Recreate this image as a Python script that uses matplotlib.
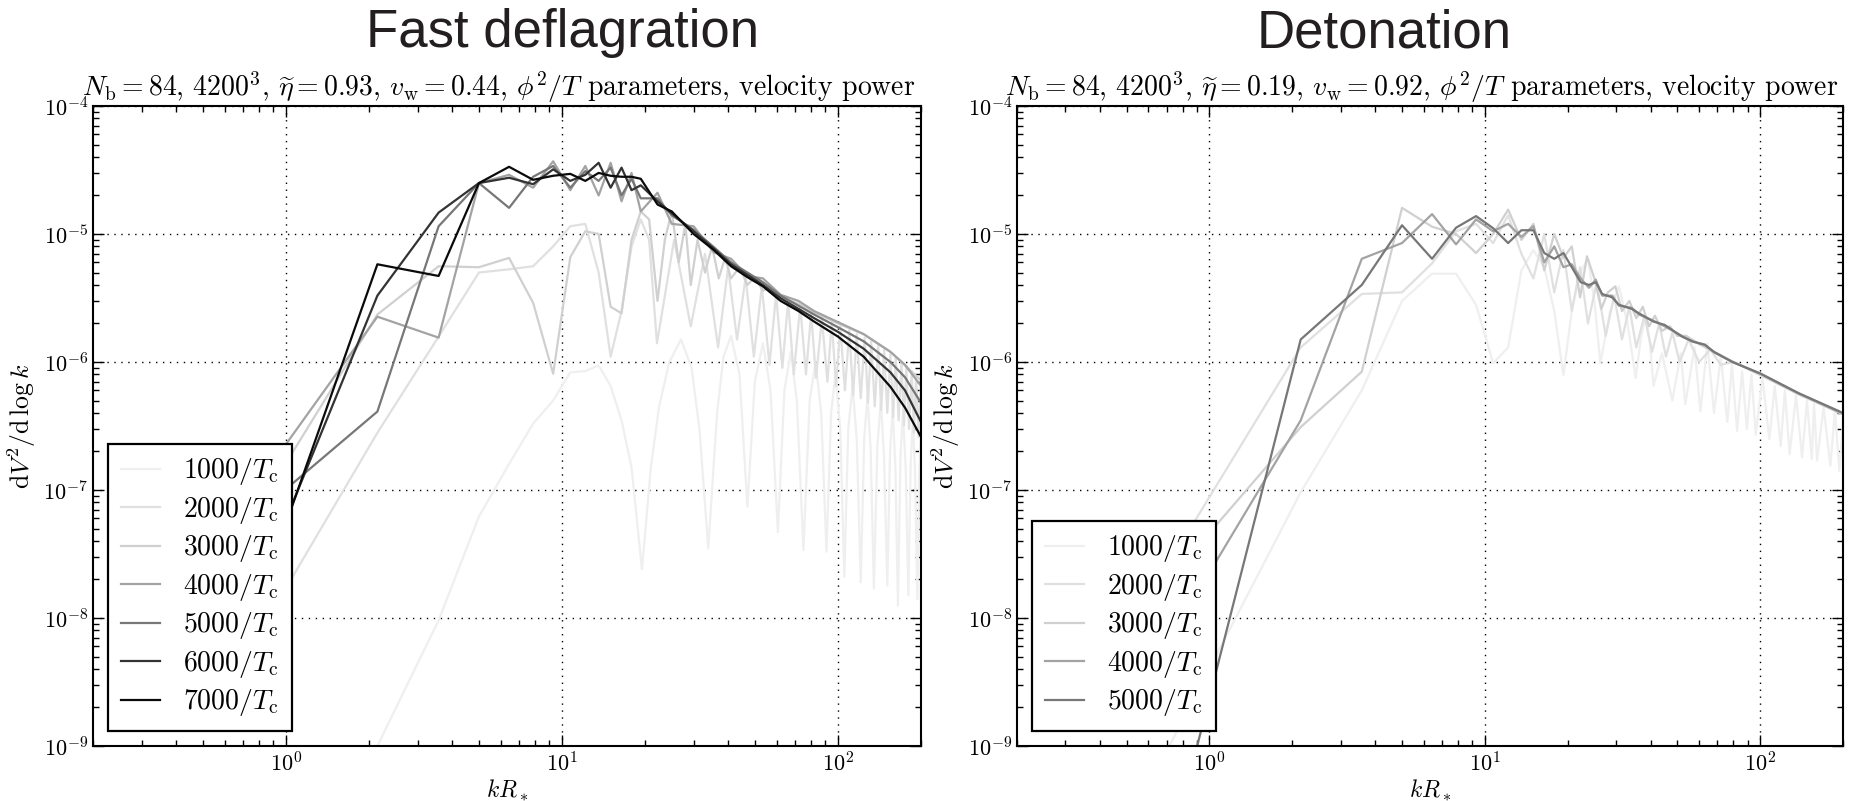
import numpy as np
import matplotlib
matplotlib.use('Agg')
import matplotlib.pyplot as plt

plt.rcParams['mathtext.fontset'] = 'cm'
plt.rcParams['font.family'] = ['cmr10', 'DejaVu Serif']
plt.rcParams['axes.formatter.use_mathtext'] = True
plt.rcParams['axes.unicode_minus'] = False

# ---------------- data: left panel (fast deflagration) ----------------
K_LOW = [0.715, 2.145, 3.575, 5.005, 6.435, 7.865, 9.295, 10.725, 12.155,
         13.585, 15.015, 16.445, 17.875, 19.305]
K_TAIL_L = [22.2, 25.0, 30.0, 35.5, 41.0, 47.0, 53.5, 62.0, 72.0, 82.0,
            100.0, 124.0, 155.0, 175.0, 200.0]

L7000 = [7e-9, 5.8e-6, 4.7e-6, 2.5e-5, 3.35e-5, 2.65e-5, 2.85e-5, 2.95e-5, 2.6e-5,
         3.0e-5, 2.85e-5, 2.8e-5, 2.8e-5, 2.7e-5,
         1.7e-5, 1.5e-5, 1.0e-5, 7.5e-6, 5.6e-6, 4.6e-6, 3.9e-6, 3.0e-6, 2.5e-6,
         2.07e-6, 1.58e-6, 1.1e-6, 6.4e-7, 4.4e-7, 2.6e-7]
L6000 = [1e-8, 3.3e-6, 1.47e-5, 2.5e-5, 2.75e-5, 2.45e-5, 3.2e-5, 2.6e-5, 2.9e-5,
         3.6e-5, 2.3e-5, 3.3e-5, 2.2e-5, 2.4e-5,
         1.8e-5, 1.45e-5, 1.05e-5, 7.7e-6, 5.8e-6, 4.8e-6, 4.0e-6, 3.15e-6, 2.6e-6,
         2.2e-6, 1.72e-6, 1.27e-6, 8.3e-7, 6.0e-7, 3.4e-7]
L5000 = [5.5e-8, 4.1e-7, 1.15e-5, 2.5e-5, 1.6e-5, 2.8e-5, 3.4e-5, 2.3e-5, 3.1e-5,
         2.6e-5, 3.3e-5, 2.0e-5, 2.7e-5, 1.9e-5,
         1.9e-5, 1.4e-5, 1.08e-5, 7.9e-6, 6.0e-6, 5.0e-6, 4.2e-6, 3.3e-6, 2.75e-6,
         2.35e-6, 1.87e-6, 1.45e-6, 1.0e-6, 7.6e-7, 4.8e-7]
L4000 = [8.3e-8, 2.26e-6, 1.55e-6, 2.5e-5, 2.9e-5, 2.3e-5, 3.7e-5, 2.2e-5, 3.4e-5,
         2.0e-5, 3.6e-5, 1.8e-5, 3.0e-5, 1.5e-5,
         2.1e-5, 1.2e-5, 1.15e-5, 7.2e-6, 6.4e-6, 4.7e-6, 4.5e-6, 3.35e-6, 3.0e-6,
         2.5e-6, 2.05e-6, 1.65e-6, 1.2e-6, 9.5e-7, 6.5e-7]

L3000_K = K_LOW + [20.7, 22.2, 23.6, 25.0, 26.5, 28.0, 29.3, 31.0, 33.0, 35.0, 37.0,
                   39.0, 41.0, 44.0, 47.0, 50.0, 53.5, 57.0, 62.0, 72.0, 82.0, 100.0,
                   124.0, 155.0, 200.0]
L3000 = [5e-8, 2.35e-6, 5.6e-6, 5.5e-6, 6.5e-6, 2.9e-6, 8.1e-7, 6.6e-6, 1.05e-5,
         1.0e-5, 2.7e-6, 2.4e-6, 9e-6, 1.5e-5,
         1.3e-5, 3e-6, 9e-6, 1.5e-5, 6e-6, 1.2e-5, 4e-6, 9e-6, 5e-6, 8e-6, 4.5e-6,
         6.5e-6, 4.5e-6, 5.5e-6, 4e-6, 4.6e-6, 3.6e-6, 3.9e-6, 3.2e-6, 2.85e-6,
         2.45e-6, 2.0e-6, 1.65e-6, 1.2e-6, 7.2e-7]

L2000_K = K_LOW + [20.7, 22.1, 25.5, 29.3, 33.0, 36.8, 40.0, 43.1, 46.3, 49.6, 53.0,
                   56.5, 59.7, 62.9, 66.0, 69.2, 73.0, 76.6, 80.0, 83.3, 87.5, 91.6,
                   95.0, 98.5, 102, 106, 110, 113.5, 117, 121, 125, 128.5, 132, 136,
                   140, 143.5, 147, 151, 155, 158.5, 162, 166, 170, 173.5, 177, 181,
                   185, 188.5, 192, 196, 200]
L2000 = [5e-9, 2.8e-7, 1.58e-6, 5.0e-6, 5.3e-6, 5.6e-6, 8e-6, 1.15e-5, 1.2e-5, 5e-6,
         1.1e-6, 2.5e-6, 8e-6, 1.3e-5,
         9e-6, 1.4e-6, 9e-6, 1.9e-6, 7e-6, 1.3e-6, 5.5e-6, 1.5e-6, 4.6e-6, 1.1e-6,
         3.9e-6, 9.5e-7, 3.4e-6, 9e-7, 3.0e-6, 8e-7, 2.75e-6, 8e-7, 2.4e-6, 7.5e-7,
         2.2e-6, 7e-7, 2.05e-6, 6.5e-7, 1.9e-6, 6e-7, 1.78e-6, 5.5e-7, 1.66e-6,
         5.2e-7, 1.55e-6, 4.8e-7, 1.45e-6, 4.5e-7, 1.35e-6, 4.2e-7, 1.25e-6, 4e-7,
         1.17e-6, 3.7e-7, 1.08e-6, 3.5e-7, 1.0e-6, 3.2e-7, 9.3e-7, 3e-7, 8.5e-7,
         2.8e-7, 7.8e-7, 2.6e-7, 7e-7]

L1000_K = [0.715, 2.145, 3.575, 5.005, 6.435, 7.865, 9.295, 10.725, 12.155, 13.585,
           15.015, 16.445, 17.875, 19.5, 21, 22.5, 24.5, 27, 29.5, 31.5, 33.9, 36.5,
           38.5, 41, 44, 47, 50, 53.5, 57, 60.6, 64, 67.5, 71, 75, 79, 83, 87, 90.9,
           94.5, 98, 102, 105.5, 109, 113, 117, 121, 124.5, 128, 131.5, 135, 139,
           143, 147, 151, 154.5, 158, 161.5, 165, 168.5, 172, 176, 180, 183.5, 187,
           190.5, 194, 197, 200]
L1000 = [1e-10, 1e-9, 9.6e-9, 6.2e-8, 1.6e-7, 3.3e-7, 5e-7, 8.3e-7, 8.5e-7, 9.4e-7,
         6.5e-7, 3.5e-7, 1.5e-7, 2.4e-8, 1.5e-7, 4.5e-7, 1.0e-6, 1.5e-6, 9e-7, 3e-7,
         3.5e-8, 4e-7, 1.1e-6, 1.6e-6, 8e-7, 7.4e-8, 7e-7, 1.4e-6, 6e-7, 4.7e-8,
         6e-7, 1.2e-6, 5e-7, 3.4e-8, 5e-7, 1.0e-6, 4e-7, 3.3e-8, 4e-7, 8e-7, 3e-7,
         2.1e-8, 3e-7, 6.5e-7, 2.5e-7, 1.9e-8, 2.5e-7, 5.5e-7, 2e-7, 1.7e-8, 2.2e-7,
         5e-7, 1.8e-7, 1.8e-8, 2e-7, 4.3e-7, 1.5e-7, 1.25e-8, 1.8e-7, 4e-7, 1.5e-7,
         1.5e-8, 1.6e-7, 3.6e-7, 1.3e-7, 1.4e-8, 1.3e-7, 3e-7]

# ---------------- data: right panel (detonation) ----------------
K_TAIL_R = [20.7, 22.3, 23.9, 25.3, 26.7, 29.0, 30.7, 34.2, 36.3, 41.0, 45.0, 52.0,
            56.8, 63.0, 68.0, 79.4, 100.5, 138.0, 200.0]
R5000 = [1.4e-10, 1.5e-6, 4.0e-6, 1.17e-5, 6.4e-6, 1.12e-5, 1.38e-5, 1.11e-5, 8.5e-6,
         1.07e-5, 1.07e-5, 7.1e-6, 6.4e-6, 7.1e-6,
         5.5e-6, 4.2e-6, 4.0e-6, 4.2e-6, 3.4e-6, 3.2e-6, 2.8e-6, 2.6e-6, 2.4e-6,
         2.07e-6, 1.95e-6, 1.58e-6, 1.45e-6, 1.36e-6, 1.2e-6, 1.0e-6, 8.1e-7,
         5.7e-7, 4.0e-7]
R4000 = [6.8e-9, 3.5e-7, 6.4e-6, 8.5e-6, 1.43e-5, 8.3e-6, 1.3e-5, 1.05e-5, 1.2e-5,
         9.5e-6, 1.15e-5, 6e-6, 8e-6, 5.5e-6,
         5.8e-6, 4.5e-6, 3.8e-6, 4.4e-6, 3.3e-6, 3.3e-6, 2.75e-6, 2.65e-6, 2.35e-6,
         2.1e-6, 1.9e-6, 1.6e-6, 1.44e-6, 1.37e-6, 1.19e-6, 1.0e-6, 8.1e-7, 5.7e-7,
         3.95e-7]
R3000_K = K_LOW + [20.7, 22.2, 23.5, 25.0, 26.5, 28.0, 29.8, 31.5, 33.5, 35.5, 37.5,
                   39.5, 41.5, 44.0, 47.0, 50.0, 54.0, 60.0, 68.0, 80.0, 100.0, 138.0,
                   200.0]
R3000 = [2e-8, 3.1e-7, 8.4e-7, 1.6e-5, 1.14e-5, 1.0e-5, 7.1e-6, 1.0e-5, 1.55e-5,
         9e-6, 1.2e-5, 5.2e-6, 1.0e-5, 6.5e-6,
         8e-6, 3.2e-6, 6.7e-6, 4.5e-6, 2.6e-6, 3.5e-6, 3.9e-6, 2.5e-6, 3.0e-6, 2.2e-6,
         2.7e-6, 1.9e-6, 2.3e-6, 1.75e-6, 1.9e-6, 1.6e-6, 1.6e-6, 1.38e-6, 1.2e-6,
         1.0e-6, 8.0e-7, 5.6e-7, 3.9e-7]
R2000_K = K_LOW + [20.7, 22.2, 23.7, 25.5, 27.5, 29.5, 31.5, 33.5, 35.5, 38.0, 40.5,
                   43.0, 45.5, 48.0, 51.0, 55.0, 60.0, 66.0, 72.0, 80.0, 100.0, 138.0,
                   200.0]
R2000 = [2.7e-8, 1.3e-6, 3.4e-6, 3.5e-6, 5.9e-6, 1.05e-5, 1.2e-5, 8.5e-6, 1.4e-5,
         7e-6, 4.5e-6, 1.0e-5, 3.5e-6, 7.5e-6,
         2.5e-6, 5.5e-6, 2.0e-6, 4.2e-6, 1.6e-6, 3.3e-6, 1.5e-6, 2.7e-6, 1.3e-6,
         2.3e-6, 1.2e-6, 2.0e-6, 1.1e-6, 1.7e-6, 1.0e-6, 1.5e-6, 1.0e-6, 1.25e-6,
         9.5e-7, 1.0e-6, 7.9e-7, 5.6e-7, 3.9e-7]
R1000_K = [0.715, 2.145, 3.575, 5.005, 6.435, 7.865, 9.295, 10.725, 12.155, 13.585,
           15.015, 16.445, 17.875, 19.3, 20.7, 22.2, 23.7, 25.0, 26.3, 28.5, 30.7,
           33.0, 35.3, 37.0, 38.4, 39.8, 41.0, 44.0, 48.0, 51.5, 53.5, 57.8, 60.7,
           64.3, 68.0, 72.0, 76.0, 79.0, 82.5, 86.0, 89.5, 93.0, 96.4, 102, 108, 113,
           118.8, 123, 128, 135, 142, 148, 154, 157, 161, 170, 180, 187, 194, 200]
R1000 = [1e-9, 9.6e-8, 6e-7, 3.0e-6, 4.9e-6, 4.9e-6, 2.8e-6, 9.8e-7, 1.3e-6, 5.2e-6,
         7.5e-6, 5.5e-6, 2.5e-6, 7.9e-7, 2.5e-6, 5e-6, 6.4e-6, 3e-6, 9.8e-7, 2.5e-6,
         3.9e-6, 2e-6, 7.5e-7, 1.6e-6, 2.3e-6, 1.4e-6, 6.5e-7, 1.17e-6, 5e-7,
         1.17e-6, 4.7e-7, 1.3e-6, 4.1e-7, 1.4e-6, 4e-7, 1.1e-6, 3.4e-7, 9.5e-7,
         2.9e-7, 8.5e-7, 3e-7, 8e-7, 2.7e-7, 7.5e-7, 2.5e-7, 6.5e-7, 2.2e-7, 6e-7,
         1.9e-7, 5.5e-7, 1.8e-7, 5e-7, 1.75e-7, 4.7e-7, 1.7e-7, 4.4e-7, 1.55e-7,
         4.2e-7, 1.4e-7, 3.5e-7]

LABELS = ['1000', '2000', '3000', '4000', '5000', '6000', '7000']
COLORS = ['#efefef', '#e0e0e0', '#d0d0d0', '#a3a3a3', '#777777', '#333333', '#0a0a0a']

left_series = [
    (L1000_K, L1000), (L2000_K, L2000), (L3000_K, L3000),
    (K_LOW + K_TAIL_L, L4000), (K_LOW + K_TAIL_L, L5000),
    (K_LOW + K_TAIL_L, L6000), (K_LOW + K_TAIL_L, L7000),
]
right_series = [
    (R1000_K, R1000), (R2000_K, R2000), (R3000_K, R3000),
    (K_LOW + K_TAIL_R, R4000), (K_LOW + K_TAIL_R, R5000),
]

fig = plt.figure(figsize=(18.53, 8.01), dpi=100)
ax1 = fig.add_axes([93 / 1853, 55 / 801, 828 / 1853, 640 / 801])
ax2 = fig.add_axes([1017 / 1853, 55 / 801, 826 / 1853, 640 / 801])

subtitles = [
    r'$N_\mathrm{b} = 84$, $4200^3$, $\widetilde{\eta} = 0.93$, $v_\mathrm{w} = 0.44$, $\phi^2/T$ parameters, velocity power',
    r'$N_\mathrm{b} = 84$, $4200^3$, $\widetilde{\eta} = 0.19$, $v_\mathrm{w} = 0.92$, $\phi^2/T$ parameters, velocity power',
]

for ax, series, sub in [(ax1, left_series, subtitles[0]), (ax2, right_series, subtitles[1])]:
    for i, (k, v) in enumerate(series):
        ax.plot(k, v, color=COLORS[i], lw=1.6, label=r'$%s/T_\mathrm{c}$' % LABELS[i])
    ax.set_xscale('log')
    ax.set_yscale('log')
    ax.set_xlim(0.2, 200)
    ax.set_ylim(1e-9, 1e-4)
    ax.grid(True, which='major', color='black', linestyle=(0, (1, 4)), linewidth=1.0)
    ax.tick_params(which='both', direction='in', top=True, right=True, labelsize=16)
    ax.tick_params(which='major', length=8, width=1)
    ax.tick_params(which='minor', length=4, width=1)
    for s in ax.spines.values():
        s.set_linewidth(1.5)
    ax.set_xlabel(r'$kR_*$', fontsize=17, labelpad=2)
    ax.set_ylabel(r'$\mathrm{d}V^2/\mathrm{d}\,\log k$', fontsize=18.5, labelpad=4)
    ax.set_title(sub, fontsize=20, pad=7, x=0.49)
    leg = ax.legend(loc='lower left', fontsize=20, frameon=True, fancybox=False,
                    edgecolor='black', borderaxespad=0.55, handlelength=1.4,
                    handletextpad=0.85, labelspacing=0.27, borderpad=0.45)
    leg.get_frame().set_linewidth(1.6)
    leg.get_frame().set_alpha(1)

fig.text(563 / 1853, 1 - 33 / 801, 'Fast deflagration', fontsize=38,
         family='Liberation Sans', ha='center', va='center', color='#231f20')
fig.text(1384 / 1853, 1 - 33 / 801, 'Detonation', fontsize=38,
         family='Liberation Sans', ha='center', va='center', color='#231f20')

fig.savefig('out.png', dpi=100)
